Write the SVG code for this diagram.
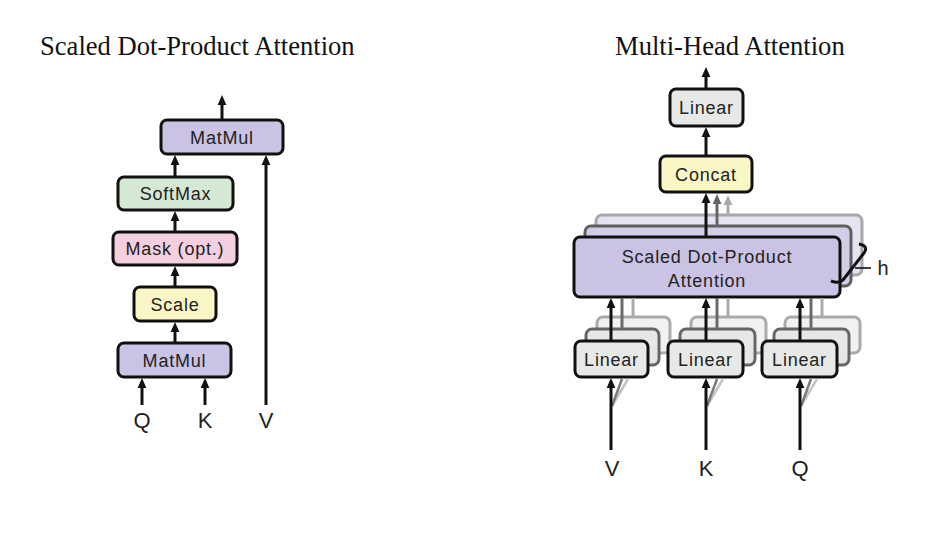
<svg xmlns="http://www.w3.org/2000/svg" width="928" height="534" viewBox="0 0 928 534">
<style>
.title{font-family:"Liberation Serif","Times New Roman",serif;font-size:26.6px;fill:#111}
.lbl{font-family:"Liberation Sans",Arial,sans-serif;font-size:18px;letter-spacing:0.8px;fill:#222;text-anchor:middle}
.io{font-family:"Liberation Sans",Arial,sans-serif;font-size:22px;fill:#222;text-anchor:middle}
.box{stroke:#111;stroke-width:3}
.lav{fill:#cbc3e3}.grn{fill:#d4e8d4}.pnk{fill:#f3cfe0}.yel{fill:#fbf6c5}.gry{fill:#e6e9e6}
.lav2{fill:#d4cde8;stroke:#5e5e5e;stroke-width:3}.lav3{fill:#e5e2f1;stroke:#a8a8a8;stroke-width:3}
.gry2{fill:#e6e8e6;stroke:#666;stroke-width:3}.gry3{fill:#f0f1f0;stroke:#aaa;stroke-width:3}
.ar{stroke:#111;stroke-width:3;fill:none;marker-end:url(#ah)}
.ar2{stroke:#666;stroke-width:3;fill:none;marker-end:url(#ah2)}
.ar3{stroke:#aaa;stroke-width:3;fill:none;marker-end:url(#ah3)}
.g2{stroke:#6a6a6a;stroke-width:3;fill:none}
.g3{stroke:#aaa;stroke-width:3;fill:none}
.sh{filter:url(#soft)}
</style>
<defs>
<filter id="soft" x="-5%" y="-10%" width="110%" height="120%"><feGaussianBlur stdDeviation="0.7"/></filter>
<marker id="ah" markerUnits="userSpaceOnUse" markerWidth="10" markerHeight="10" viewBox="0 0 10 10" refX="3" refY="5" orient="auto"><path d="M0,0.6 L10,5 L0,9.4 z" fill="#111"/></marker>
<marker id="ah2" markerUnits="userSpaceOnUse" markerWidth="10" markerHeight="10" viewBox="0 0 10 10" refX="3" refY="5" orient="auto"><path d="M0,0.6 L10,5 L0,9.4 z" fill="#666"/></marker>
<marker id="ah3" markerUnits="userSpaceOnUse" markerWidth="10" markerHeight="10" viewBox="0 0 10 10" refX="3" refY="5" orient="auto"><path d="M0,0.6 L10,5 L0,9.4 z" fill="#aaa"/></marker>
</defs>
<rect width="928" height="534" fill="#fff"/>

<text class="title" x="40" y="55">Scaled Dot-Product Attention</text>
<text class="title" x="615" y="55">Multi-Head Attention</text>

<!-- Left: scaled dot-product attention -->
<g id="sdpa-matmul-top"><rect class="box lav" x="161" y="120" width="122" height="34" rx="6"/><text class="lbl" x="222" y="143.5">MatMul</text></g>
<g id="sdpa-softmax"><rect class="box grn" x="118" y="177" width="115" height="33" rx="6"/><text class="lbl" x="175.5" y="200">SoftMax</text></g>
<g id="sdpa-mask"><rect class="box pnk" x="113" y="232" width="124" height="33" rx="6"/><text class="lbl" x="175" y="255">Mask (opt.)</text></g>
<g id="sdpa-scale"><rect class="box yel" x="134" y="287" width="82" height="34" rx="6"/><text class="lbl" x="175" y="310.5">Scale</text></g>
<g id="sdpa-matmul-bottom"><rect class="box lav" x="118" y="343" width="113" height="34" rx="6"/><text class="lbl" x="174.5" y="366.5">MatMul</text></g>
<g id="sdpa-q"><text class="io" x="142" y="428">Q</text></g>
<g id="sdpa-k"><text class="io" x="205" y="428">K</text></g>
<g id="sdpa-v"><text class="io" x="266" y="428">V</text></g>

<!-- Right: multi-head attention -->
<g id="mha-linear-top"><rect class="box gry" x="670" y="89" width="73" height="37" rx="6"/><text class="lbl" x="706.5" y="114">Linear</text></g>
<g id="mha-concat"><rect class="box yel" x="660" y="156" width="92" height="36" rx="6"/><text class="lbl" x="706" y="180.5">Concat</text></g>
<g id="mha-sdpa">
<rect class="lav3 sh" x="596" y="215" width="266" height="60" rx="6"/>
<rect class="lav2 sh" x="585" y="226" width="266" height="60" rx="6"/>
<rect class="box lav" x="574" y="237" width="266" height="60" rx="6"/>
<text class="lbl" x="707" y="263">Scaled Dot-Product</text>
<text class="lbl" x="707" y="287">Attention</text>
</g>
<g id="mha-heads">
<path d="M859,244 Q869,246 864,253 L843,280 Q839,284 831,281" fill="none" stroke="#111" stroke-width="3"/>
<line x1="855" y1="268" x2="871" y2="268" stroke="#111" stroke-width="1.6"/>
<text class="io" x="883" y="275" style="font-size:20px">h</text>
</g>
<g id="mha-linear-v">
<rect class="gry3 sh" x="597" y="317" width="73" height="36" rx="6"/>
<rect class="gry2 sh" x="586" y="329" width="73" height="36" rx="6"/>
<rect class="box gry" x="575" y="341" width="73" height="36" rx="6"/>
<text class="lbl" x="611.5" y="365.5">Linear</text>
</g>
<g id="mha-linear-k">
<rect class="gry3 sh" x="691" y="317" width="75" height="36" rx="6"/>
<rect class="gry2 sh" x="680" y="329" width="75" height="36" rx="6"/>
<rect class="box gry" x="668" y="341" width="75" height="36" rx="6"/>
<text class="lbl" x="705.5" y="365.5">Linear</text>
</g>
<g id="mha-linear-q">
<rect class="gry3 sh" x="785" y="317" width="75" height="36" rx="6"/>
<rect class="gry2 sh" x="774" y="329" width="75" height="36" rx="6"/>
<rect class="box gry" x="762" y="341" width="75" height="36" rx="6"/>
<text class="lbl" x="799.5" y="365.5">Linear</text>
</g>
<g id="mha-v"><text class="io" x="612" y="476">V</text></g>
<g id="mha-k"><text class="io" x="706" y="476">K</text></g>
<g id="mha-q"><text class="io" x="800" y="476">Q</text></g>

<g id="connectors">
<!-- left -->
<line class="ar" x1="222" y1="120" x2="222" y2="102"/>
<line class="ar" x1="175" y1="177" x2="175" y2="162"/>
<line class="ar" x1="266" y1="405" x2="266" y2="162"/>
<line class="ar" x1="175" y1="232" x2="175" y2="218"/>
<line class="ar" x1="175" y1="287" x2="175" y2="273"/>
<line class="ar" x1="175" y1="343" x2="175" y2="329"/>
<line class="ar" x1="142" y1="405" x2="142" y2="385"/>
<line class="ar" x1="205" y1="405" x2="205" y2="385"/>
<!-- right -->
<line class="ar" x1="706" y1="89" x2="706" y2="74"/>
<line class="ar" x1="706" y1="156" x2="706" y2="134"/>
<line class="ar3" x1="728" y1="215" x2="728" y2="202"/>
<line class="ar2" x1="717" y1="226" x2="717" y2="201"/>
<line class="ar" x1="706" y1="237" x2="706" y2="200"/>
<line class="g3" x1="633" y1="317" x2="633" y2="298"/>
<line class="g2" x1="622" y1="329" x2="622" y2="298"/>
<line class="g3" x1="728" y1="317" x2="728" y2="298"/>
<line class="g2" x1="717" y1="329" x2="717" y2="298"/>
<line class="g3" x1="822" y1="317" x2="822" y2="298"/>
<line class="g2" x1="811" y1="329" x2="811" y2="298"/>
<line class="ar" x1="611" y1="341" x2="611" y2="305"/>
<line class="ar" x1="706" y1="341" x2="706" y2="305"/>
<line class="ar" x1="800" y1="341" x2="800" y2="305"/>
<line x1="612" y1="406" x2="628" y2="379" stroke="#c4c4c4" stroke-width="2.5"/>
<line x1="612" y1="406" x2="622" y2="379" stroke="#7a7a7a" stroke-width="2.5"/>
<line x1="707" y1="406" x2="723" y2="379" stroke="#c4c4c4" stroke-width="2.5"/>
<line x1="707" y1="406" x2="717" y2="379" stroke="#7a7a7a" stroke-width="2.5"/>
<line x1="801" y1="406" x2="817" y2="379" stroke="#c4c4c4" stroke-width="2.5"/>
<line x1="801" y1="406" x2="811" y2="379" stroke="#7a7a7a" stroke-width="2.5"/>
<line class="ar" x1="611" y1="450" x2="611" y2="385"/>
<line class="ar" x1="706" y1="450" x2="706" y2="385"/>
<line class="ar" x1="800" y1="450" x2="800" y2="385"/>
</g>
</svg>
